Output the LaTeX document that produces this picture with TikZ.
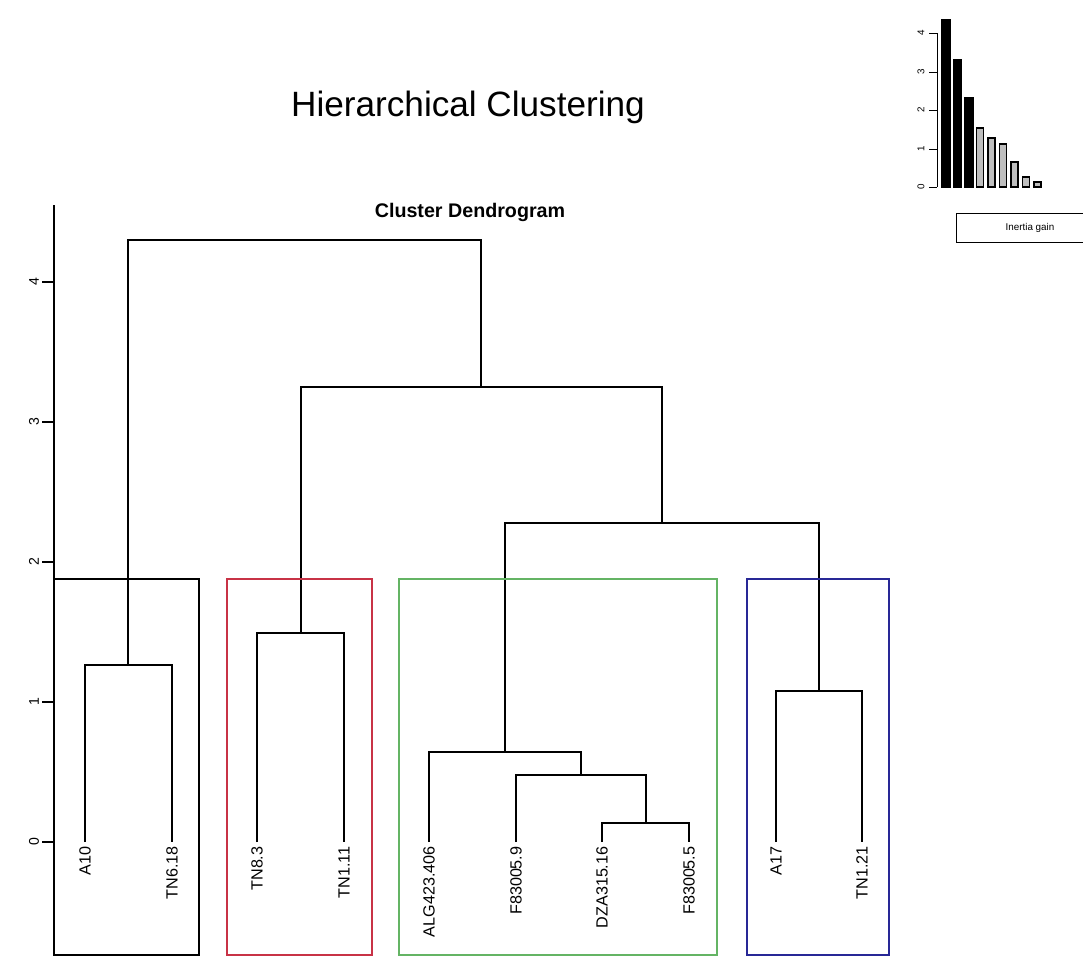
\documentclass[tikz,border=0pt]{standalone}
\usepackage{fontspec}
\setmainfont{Liberation Sans}
\usetikzlibrary{arrows}
\usetikzlibrary{positioning}
\definecolor{clred}{RGB}{200,50,70}
\definecolor{clgreen}{RGB}{100,180,100}
\definecolor{clblue}{RGB}{40,40,150}
\definecolor{bargrey}{RGB}{190,190,190}
\tikzstyle{leaf} = [rotate=90, anchor=east, inner sep=3pt, font=\fontsize{11.5}{12}\selectfont]
\tikzstyle{ticklab} = [rotate=90, inner sep=0pt, font=\fontsize{10}{11}\selectfont]
\tikzstyle{minilab} = [rotate=90, inner sep=0pt, font=\fontsize{7}{8}\selectfont]
\tikzstyle{link} = [draw, line width=0.9pt]
\tikzstyle{clbox} = [draw, line width=0.9pt]
\tikzstyle{bar} = [draw, line width=0.8pt]

\begin{document}
\begin{tikzpicture}[x=0.025cm, y=-0.025cm]
            \useasboundingbox (0,0) rectangle (1083,960);
            % Titles
            \node (title) at (468,107) {\fontsize{25}{30}\selectfont Hierarchical Clustering};
            \node (sub) at (470,212) {\fontsize{14}{16}\selectfont\bfseries Cluster Dendrogram};
            % Axis
            \draw [line width=0.8pt] (54,842) -- (54,205);
            \foreach \v [count=\i from 0] in {842,702,562,422,282}
              {
              \draw [line width=0.8pt] (42,\v) -- (54,\v);
              \node [ticklab] (t\i) at (34,\v) {\i};
              }
            % Place leaves
            \node [leaf] (a10) at (85,842) {A10};
            \node [leaf] (tn618) at (172,842) {TN6.18};
            \node [leaf] (tn83) at (257,842) {TN8.3};
            \node [leaf] (tn111) at (344,842) {TN1.11};
            \node [leaf] (alg) at (429,842) {ALG423.406};
            \node [leaf] (f59) at (516,842) {F83005.9};
            \node [leaf] (dza) at (602,842) {DZA315.16};
            \node [leaf] (f55) at (689,842) {F83005.5};
            \node [leaf] (a17) at (776,842) {A17};
            \node [leaf] (tn121) at (862,842) {TN1.21};
            % Merge points
            \coordinate (m1) at (128,665);
            \coordinate (m2) at (301,633);
            \coordinate (m3) at (646,823);
            \coordinate (m4) at (581,775);
            \coordinate (m5) at (505,752);
            \coordinate (m6) at (819,691);
            \coordinate (m7) at (662,523);
            \coordinate (m8) at (481,387);
            \coordinate (m9) at (305,240);
            % Draw links
            \path [link] (a10.east) |- (m1) -| (tn618.east);
            \path [link] (tn83.east) |- (m2) -| (tn111.east);
            \path [link] (dza.east) |- (m3) -| (f55.east);
            \path [link] (f59.east) |- (m4) -| (m3);
            \path [link] (alg.east) |- (m5) -| (m4);
            \path [link] (a17.east) |- (m6) -| (tn121.east);
            \path [link] (m5) |- (m7) -| (m6);
            \path [link] (m2) |- (m8) -| (m7);
            \path [link] (m1) |- (m9) -| (m8);
            % Cluster boxes
            \draw [clbox, black] (54,579) rectangle (199,955);
            \draw [clbox, clred] (227,579) rectangle (372,955);
            \draw [clbox, clgreen] (399,579) rectangle (717,955);
            \draw [clbox, clblue] (747,579) rectangle (889,955);
            % Inertia gain inset
            \draw [line width=0.7pt] (937,187) -- (937,33);
            \foreach \v [count=\i from 0] in {187,149,110,72,33}
              {
              \draw [line width=0.7pt] (929,\v) -- (937,\v);
              \node [minilab] (g\i) at (921,\v) {\i};
              }
            \foreach \h [count=\i] in {20,60,98,128,138,144,162,177,182}
              {
              \ifnum\i<4
                \path [bar, fill=black] ({942+(\i-1)*11.5},187) rectangle ++(8,\h-187);
              \else
                \path [bar, fill=bargrey] ({942+(\i-1)*11.5},187) rectangle ++(7,\h-187);
              \fi
              }
            \draw [line width=0.7pt] (956,213) rectangle (1095,242);
            \node (gain) at (1030,228) {\fontsize{7}{8}\selectfont Inertia gain};
\end{tikzpicture}
\end{document}
